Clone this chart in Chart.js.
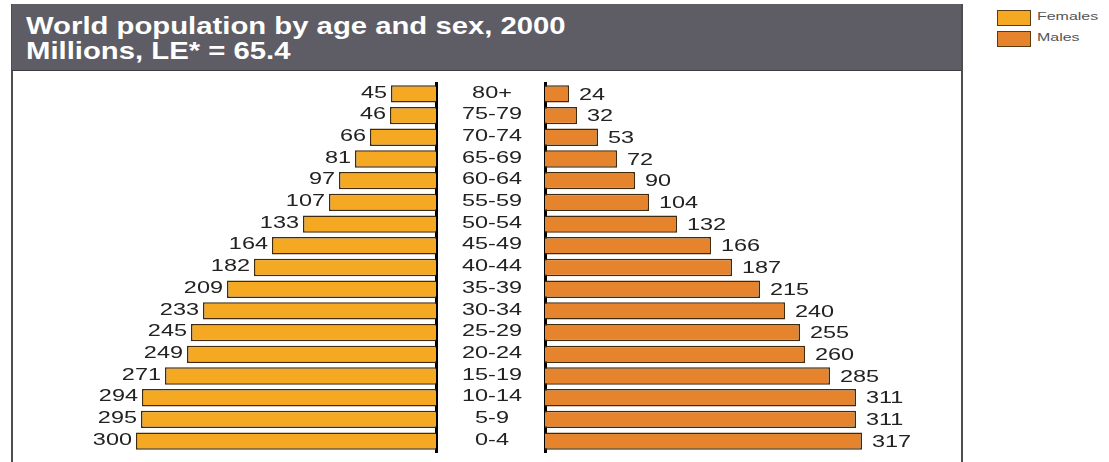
<!DOCTYPE html>
<html>
<head>
<meta charset="utf-8">
<script src="https://cdn.jsdelivr.net/npm/chart.js@4.4.1/dist/chart.umd.min.js"></script>
<style>
    body { margin: 0; background: #fff; font-family: "Liberation Sans", Arial, sans-serif; }
    #page { position: relative; width: 1109px; height: 462px; overflow: hidden; }
    #frame { position: absolute; left: 11px; top: 4px; width: 948px; height: 470px; border-left: 2px solid #4e4e4e; border-right: 2px solid #4e4e4e; }
    #header { position: absolute; left: 12px; top: 4px; width: 949px; height: 66px; background: #5e5c64; border-bottom: 1px solid #3e3d42; }
    #header .line { position: absolute; left: 14px; color: #fff; font-weight: bold; font-size: 24px; white-space: nowrap; transform: scaleX(1.22); transform-origin: left center; }
    #leftBox { position: absolute; left: 0; top: 0; }
    #rightBox { position: absolute; left: 440px; top: 0; }
    .legend { position: absolute; left: 997px; }
    .legend .sw { position: absolute; left: 0; top: 0; width: 32px; height: 14px; border: 1px solid #5a3a10; }
    .legend .lbl { position: absolute; left: 40px; top: 0; font-size: 11px; color: #555; white-space: nowrap; transform: scaleX(1.45); transform-origin: left center; }
</style>
</head>
<body>
<div id="page">
    <div id="frame"></div>
    <div id="header">
        <div class="line" style="top: 8px;">World population by age and sex, 2000</div>
        <div class="line" style="top: 33px;">Millions, LE* = 65.4</div>
    </div>
    <div id="leftBox"><canvas id="femaleChart" width="440" height="462"></canvas></div>
    <div id="rightBox"><canvas id="maleChart" width="523" height="462"></canvas></div>
    <div class="legend" style="top: 10px;"><div class="sw" style="background:#f5a822"></div><div class="lbl">Females</div></div>
    <div class="legend" style="top: 31px;"><div class="sw" style="background:#e6832d"></div><div class="lbl">Males</div></div>
</div>
<script>
const ageGroups = ['80+', '75-79', '70-74', '65-69', '60-64', '55-59', '50-54', '45-49', '40-44',
    '35-39', '30-34', '25-29', '20-24', '15-19', '10-14', '5-9', '0-4'];
const females = [45, 46, 66, 81, 97, 107, 133, 164, 182, 209, 233, 245, 249, 271, 294, 295, 300];
const males = [24, 32, 53, 72, 90, 104, 132, 166, 187, 215, 240, 255, 260, 285, 311, 311, 317];

const femaleColor = '#f5a822';
const maleColor = '#e6832d';
const barEdge = '#3f2c0e';
const textColor = '#222';
const labelFont = '17px "Liberation Sans", Arial, sans-serif';
const stretch = 1.38;

// draws text squeezed wider, the picture is stretched sideways
function wideText(ctx, text, x, y, align) {
    ctx.save();
    ctx.translate(x, y);
    ctx.scale(stretch, 1);
    ctx.textAlign = align;
    ctx.textBaseline = 'middle';
    ctx.fillText(text, 0, 0);
    ctx.restore();
}

const valueLabels = {
    id: 'valueLabels',
    afterDatasetsDraw(chart, args, opts) {
        const ctx = chart.ctx;
        const ds = chart.data.datasets[0];
        ctx.save();
        ctx.font = labelFont;
        ctx.fillStyle = textColor;
        chart.getDatasetMeta(0).data.forEach((bar, i) => {
            if (opts.side === 'left') {
                wideText(ctx, String(ds.data[i]), bar.x - 4, bar.y - 1, 'right');
            } else {
                wideText(ctx, String(ds.data[i]), bar.x + 10, bar.y + 1, 'left');
            }
        });
        // age groups sit between the two halves
        if (opts.ages) {
            const y = chart.scales.y;
            ageGroups.forEach((g, i) => {
                wideText(ctx, g, chart.chartArea.left - 53, y.getPixelForValue(i) - 1, 'center');
            });
        }
        ctx.restore();
    }
};

function makeHalf(id, values, color, side) {
    const isLeft = side === 'left';
    return new Chart(document.getElementById(id), {
        type: 'bar',
        data: {
            labels: ageGroups,
            datasets: [{
                data: values,
                backgroundColor: color,
                borderColor: barEdge,
                borderWidth: 1.5,
                categoryPercentage: 1,
                barPercentage: 0.8
            }]
        },
        options: {
            indexAxis: 'y',
            responsive: false,
            animation: false,
            devicePixelRatio: 1,
            layout: { padding: { top: 83, bottom: 10, left: 0, right: 0 } },
            scales: {
                x: {
                    type: 'linear',
                    min: 0,
                    max: isLeft ? 436 : 418,
                    reverse: isLeft,
                    display: false
                },
                y: {
                    position: isLeft ? 'right' : 'left',
                    grid: { display: false },
                    ticks: { display: false },
                    border: { display: true, color: '#000', width: 3 },
                    afterFit: s => { s.width = isLeft ? 4 : 105; }
                }
            },
            plugins: {
                legend: { display: false },
                tooltip: { enabled: false },
                valueLabels: { side: side, ages: !isLeft }
            }
        },
        plugins: [valueLabels]
    });
}

makeHalf('femaleChart', females, femaleColor, 'left');
makeHalf('maleChart', males, maleColor, 'right');
</script>
</body>
</html>
